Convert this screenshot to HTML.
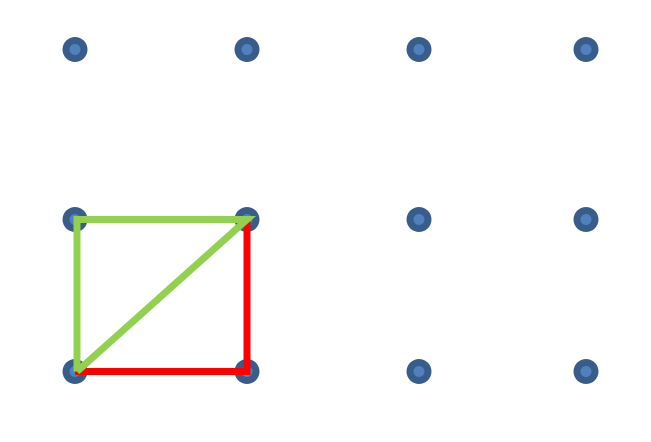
<!DOCTYPE html>
<html><head><meta charset="utf-8"><style>html,body{margin:0;padding:0;background:#fff;width:651px;height:442px;overflow:hidden}</style></head>
<body>
<svg id="chart" width="651" height="442" xmlns="http://www.w3.org/2000/svg"></svg>
<script>
const colX = [75, 247, 419, 586];
const rowY = [49.5, 219.5, 371.5];
const redPath = [[0,2],[1,2],[1,1]];
const greenPath = [[0,2],[0,1],[1,1],[0,2]];
const NS = 'http://www.w3.org/2000/svg';
const svg = document.getElementById('chart');
function px(p, dx){ return (colX[p[0]] + (dx||0)) + ',' + rowY[p[1]]; }
rowY.forEach((y, r) => colX.forEach((x, c) => {
  const g = document.createElementNS(NS, 'g');
  
  
  const o = document.createElementNS(NS, 'circle');
  o.setAttribute('cx', x); o.setAttribute('cy', y); o.setAttribute('r', 12.5);
  o.setAttribute('fill', '#385d8a');
  const i = document.createElementNS(NS, 'circle');
  i.setAttribute('cx', x); i.setAttribute('cy', y); i.setAttribute('r', 5.5);
  i.setAttribute('fill', '#4f81bd');
  g.appendChild(o); g.appendChild(i); svg.appendChild(g);
}));
function path(pts, color, name, dx){
  const p = document.createElementNS(NS, 'polyline');
  p.setAttribute('points', pts.map(q => px(q, q[0] === 0 ? dx : 0)).join(' '));
  p.setAttribute('fill', 'none');
  p.setAttribute('stroke', color);
  p.setAttribute('stroke-width', 7);
  p.setAttribute('stroke-linejoin', 'miter');
  
  
  svg.appendChild(p);
}
path(redPath, '#ff0000', 'red-path', 0);
path(greenPath, '#92d050', 'green-path', 2);
</script>
</body></html>
